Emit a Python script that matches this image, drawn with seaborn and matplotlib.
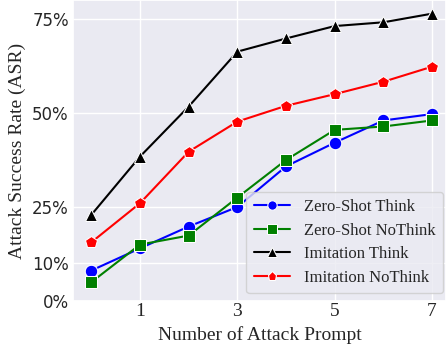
import matplotlib
matplotlib.use("Agg")
import matplotlib.pyplot as plt
import seaborn as sns
import pandas as pd

# number of attack prompts
prompts = [0, 1, 2, 3, 4, 5, 6, 7]

zero_shot_think = [8.1, 14.0, 19.8, 25.0, 35.8, 42.1, 48.0, 49.7]
zero_shot_nothink = [5.0, 15.0, 17.4, 27.5, 37.5, 45.5, 46.4, 48.0]
imitation_think = [22.9, 38.4, 51.7, 66.3, 69.8, 73.1, 74.1, 76.4]
imitation_nothink = [15.6, 26.0, 39.7, 47.7, 51.9, 55.0, 58.3, 62.3]

series_names = ["Zero-Shot Think", "Zero-Shot NoThink", "Imitation Think", "Imitation NoThink"]
series_values = [zero_shot_think, zero_shot_nothink, imitation_think, imitation_nothink]

xticks = [1, 3, 5, 7]
yticks = [0, 10, 25, 50, 75]
ytick_labels = ["0%", "10%", "25%", "50%", "75%"]

rows = []
for name, vals in zip(series_names, series_values):
    for x, v in zip(prompts, vals):
        rows.append({"prompt": x, "asr": v, "method": name})
df = pd.DataFrame(rows)

sns.set_theme(style="darkgrid")
plt.rcParams["font.family"] = ["Liberation Serif", "DejaVu Serif"]

fig = plt.figure(figsize=(4.46, 3.54), dpi=100)
ax = fig.add_axes([0.1637, 0.1497, 0.836, 0.850])

palette = {"Zero-Shot Think": "blue", "Zero-Shot NoThink": "green",
           "Imitation Think": "black", "Imitation NoThink": "red"}
markers = {"Zero-Shot Think": "o", "Zero-Shot NoThink": "s",
           "Imitation Think": "^", "Imitation NoThink": "p"}

sns.lineplot(data=df, x="prompt", y="asr", hue="method", style="method",
             hue_order=series_names, style_order=series_names,
             palette=palette, markers=markers, dashes=False,
             markersize=9, linewidth=1.5, ax=ax)

ax.set_xlim(-0.376, 7.283)
ax.set_ylim(0, 80)
ax.set_xticks(xticks)
ax.set_xticklabels([str(t) for t in xticks], fontsize=14)
ax.set_yticks(yticks)
ax.set_yticklabels(ytick_labels, fontsize=12, family="DejaVu Sans")
ax.tick_params(axis="x", length=0, pad=1.5)
ax.tick_params(axis="y", length=0, pad=3)
ax.set_xlabel("Number of Attack Prompt", fontsize=14, labelpad=4)
ax.set_ylabel("Attack Success Rate (ASR)", fontsize=14)
ax.yaxis.set_label_coords(-0.126, 0.5)

ax.legend(title=None, fontsize=12, loc="lower right",
          bbox_to_anchor=(0.992, 0.026), borderaxespad=0, frameon=True,
          markerscale=0.75, handlelength=2.2, handletextpad=0.8,
          borderpad=0.45, labelspacing=0.45)

fig.savefig("out.png", dpi=100)
